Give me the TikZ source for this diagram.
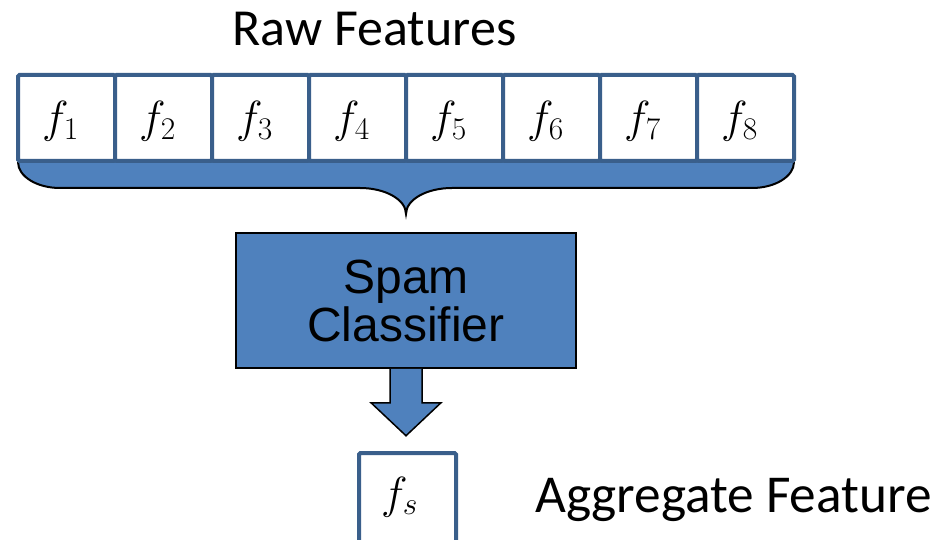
\RequirePackage{fix-cm}
\documentclass[tikz,border=0pt]{standalone}
\usepackage[no-math]{fontspec}
\setmainfont{Carlito}
\newfontfamily\arialf{Liberation Sans}
\usetikzlibrary{calc}
\definecolor{fillblue}{HTML}{4F81BD}
\definecolor{edgeblue}{HTML}{3A5F8B}
\begin{document}
\begin{tikzpicture}[x=1pt,y=-1pt,
  featbox/.style={draw=edgeblue, line width=4pt, fill=white, minimum width=97pt, minimum height=86pt, inner sep=0pt, outer sep=0pt, rounded corners=1.5pt},
  flabel/.style={inner sep=0pt, font=\fontsize{45}{50}\selectfont, anchor=base},
  bigtext/.style={inner sep=0pt, font=\fontsize{52}{60}\selectfont},
  spambox/.style={draw=black, line width=1.5pt, fill=fillblue, minimum width=340pt, minimum height=135pt, inner sep=0pt, align=center, font=\arialf\fontsize{48}{48}\selectfont},
  blockarrow/.style={draw=black, line width=1.5pt, fill=fillblue, line join=miter},
  bracefill/.style={fill=fillblue},
  braceedge/.style={draw=black, line width=2pt},
]
\useasboundingbox (0,0) rectangle (935,540);
\clip (0,0) rectangle (935,540);

% brace under the raw features
\fill[bracefill] (18,160) -- (18,162) .. controls (18,176.4) and (36.8,188) .. (60,188) -- (360,188)
  .. controls (385.4,188) and (406,199.6) .. (406,214)
  .. controls (406,199.6) and (426.6,188) .. (452,188) -- (752,188)
  .. controls (775.2,188) and (794,176.4) .. (794,162) -- (794,160) -- cycle;
\draw[braceedge] (18,162) .. controls (18,176.4) and (36.8,188) .. (60,188) -- (360,188)
  .. controls (385.4,188) and (406,199.6) .. (406,214)
  .. controls (406,199.6) and (426.6,188) .. (452,188) -- (752,188)
  .. controls (775.2,188) and (794,176.4) .. (794,162);

% feature boxes
\foreach \i in {1,...,8} {
  \node[featbox] (f\i) at ({18+97*(\i-0.5)},118) {};
  \node[flabel] (l\i) at ($(f\i.center)+(-6,15)$) {$f_{\i}$};
}

\node[bigtext, anchor=base] (raw) at (374.5,46) {Raw Features};

% classifier
\node[spambox] (spam) at (406,300.5) {Spam\\Classifier};

% aggregate feature box
\node[featbox, minimum height=97pt] (fs) at (407.5,501.5) {};
\node[flabel] (ls) at ($(fs.north)+(-8,55)$) {$f_s$};

% block arrow from classifier to aggregate feature
\draw[blockarrow] ($(spam.south)+(-16,0)$) -- ($(spam.south)+(-16,34)$) -- ($(spam.south)+(-35,34)$)
  -- ($(spam.south)+(0,67)$) -- ($(spam.south)+(35,34)$) -- ($(spam.south)+(16,34)$) -- ($(spam.south)+(16,0)$);

\node[bigtext, anchor=base west, font=\fontsize{53.3}{60}\selectfont] (agg) at (535,512) {Aggregate Feature};
\end{tikzpicture}
\end{document}
